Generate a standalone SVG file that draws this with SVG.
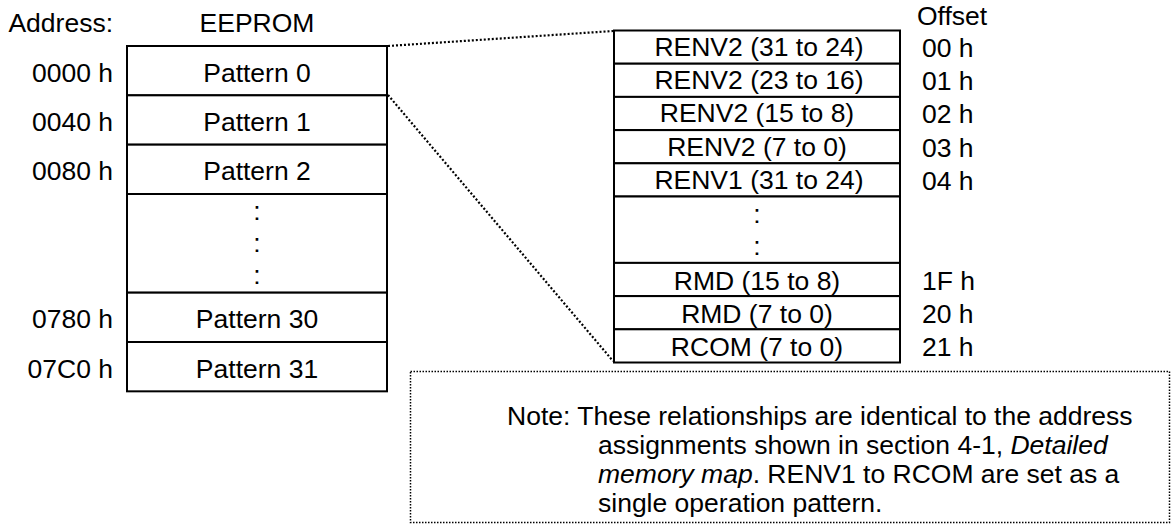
<svg xmlns="http://www.w3.org/2000/svg" width="1173" height="525" viewBox="0 0 1173 525">
<style>
text{font-family:"Liberation Sans",Arial,sans-serif;font-size:26.5px;fill:#000}
.c{text-anchor:middle}
.e{text-anchor:end}
.cell{fill:#fff;stroke:#000;stroke-width:2}
.conn{fill:none;stroke:#000;stroke-width:2.2;stroke-dasharray:2 2}
.note{fill:#fff;stroke:#000;stroke-width:1.5;stroke-dasharray:1.5 1.5}
</style>
<rect width="1173" height="525" fill="#fff"/>
<g id="headers">
<text x="113" y="32" class="e">Address:</text>
<text x="257" y="32" class="c">EEPROM</text>
<text x="917" y="25">Offset</text>
</g>
<g id="eeprom">
<g id="p0"><rect class="cell" x="127" y="46" width="260" height="49.33"/><text x="257" y="81.5" class="c">Pattern 0</text><text x="113" y="81.5" class="e">0000 h</text></g>
<g id="p1"><rect class="cell" x="127" y="95.33" width="260" height="49.33"/><text x="257" y="130.8" class="c">Pattern 1</text><text x="113" y="130.8" class="e">0040 h</text></g>
<g id="p2"><rect class="cell" x="127" y="144.67" width="260" height="49.33"/><text x="257" y="180.2" class="c">Pattern 2</text><text x="113" y="180.2" class="e">0080 h</text></g>
<g id="pdots"><rect class="cell" x="127" y="194" width="260" height="98.67"/><text x="257" y="219.5" class="c">:</text><text x="257" y="251.5" class="c">:</text><text x="257" y="283.5" class="c">:</text></g>
<g id="p30"><rect class="cell" x="127" y="292.67" width="260" height="49.33"/><text x="257" y="328.2" class="c">Pattern 30</text><text x="113" y="328.2" class="e">0780 h</text></g>
<g id="p31"><rect class="cell" x="127" y="342" width="260" height="49.33"/><text x="257" y="377.5" class="c">Pattern 31</text><text x="113" y="377.5" class="e">07C0 h</text></g>
</g>
<g id="pattern">
<g id="r0"><rect class="cell" x="614" y="30.5" width="286" height="33.2"/><text x="759" y="56" class="c">RENV2 (31 to 24)</text><text x="922" y="57">00 h</text></g>
<g id="r1"><rect class="cell" x="614" y="63.7" width="286" height="33.2"/><text x="759" y="89.2" class="c">RENV2 (23 to 16)</text><text x="922" y="90.2">01 h</text></g>
<g id="r2"><rect class="cell" x="614" y="96.9" width="286" height="33.2"/><text x="757" y="122.4" class="c">RENV2 (15 to 8)</text><text x="922" y="123.4">02 h</text></g>
<g id="r3"><rect class="cell" x="614" y="130.1" width="286" height="33.2"/><text x="757" y="155.6" class="c">RENV2 (7 to 0)</text><text x="922" y="156.6">03 h</text></g>
<g id="r4"><rect class="cell" x="614" y="163.3" width="286" height="33.2"/><text x="759" y="188.8" class="c">RENV1 (31 to 24)</text><text x="922" y="189.8">04 h</text></g>
<g id="rdots"><rect class="cell" x="614" y="196.5" width="286" height="66.4"/><text x="757" y="223" class="c">:</text><text x="757" y="254.5" class="c">:</text></g>
<g id="r1f"><rect class="cell" x="614" y="262.9" width="286" height="33.2"/><text x="757" y="289.5" class="c">RMD (15 to 8)</text><text x="922" y="290">1F h</text></g>
<g id="r20"><rect class="cell" x="614" y="296.1" width="286" height="33.2"/><text x="757" y="322.5" class="c">RMD (7 to 0)</text><text x="922" y="323">20 h</text></g>
<g id="r21"><rect class="cell" x="614" y="329.3" width="286" height="33.2"/><text x="757" y="355.5" class="c">RCOM (7 to 0)</text><text x="922" y="356">21 h</text></g>
</g>
<g id="connectors">
<line class="conn" x1="388" y1="46" x2="613" y2="31"/>
<line class="conn" x1="388" y1="95" x2="613" y2="361"/>
</g>
<g id="note">
<rect class="note" x="410.5" y="371.5" width="759" height="151"/>
<text x="507" y="425">Note: These relationships are identical to the address</text>
<text x="598" y="454">assignments shown in section 4-1, <tspan font-style="italic">Detailed</tspan></text>
<text x="598" y="483"><tspan font-style="italic">memory map</tspan>. RENV1 to RCOM are set as a</text>
<text x="598" y="512">single operation pattern.</text>
</g>
</svg>
